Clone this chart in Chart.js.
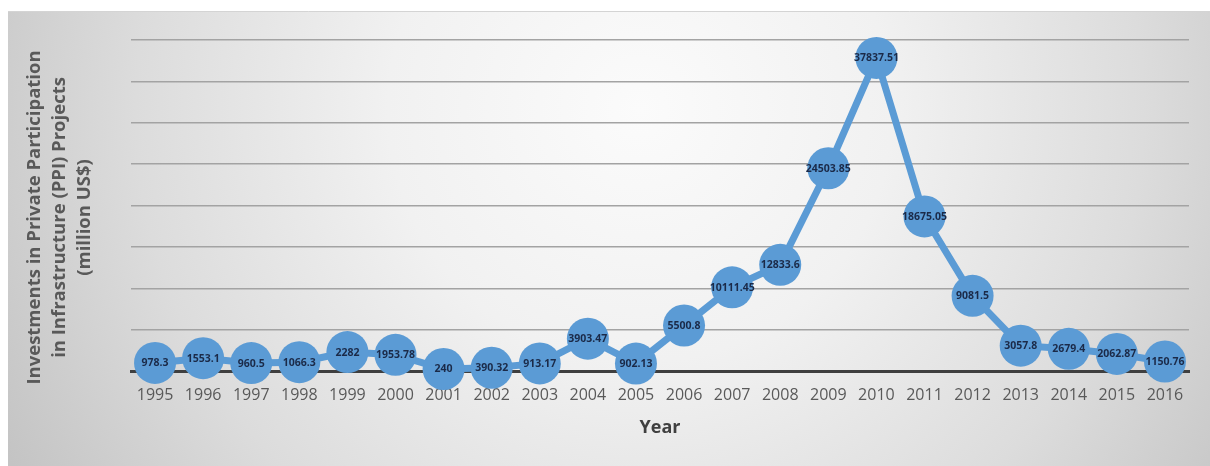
<!DOCTYPE html>
<html>
<head>
<meta charset="utf-8">
<script src="https://cdn.jsdelivr.net/npm/chart.js@4/dist/chart.umd.min.js"></script>
<style>
  html, body { margin: 0; padding: 0; background: #ffffff; }
  #wrap { width: 1210px; height: 466px; position: relative; }
</style>
</head>
<body>
<div id="wrap"><canvas id="ppi"></canvas></div>
<script>
// Investment in PPI projects, million US$, by year
const years = ['1995','1996','1997','1998','1999','2000','2001','2002','2003','2004','2005',
               '2006','2007','2008','2009','2010','2011','2012','2013','2014','2015','2016'];
const investment = [978.3, 1553.1, 960.5, 1066.3, 2282, 1953.78, 240, 390.32, 913.17, 3903.47, 902.13,
                    5500.8, 10111.45, 12833.6, 24503.85, 37837.51, 18675.05, 9081.5, 3057.8, 2679.4, 2062.87, 1150.76];
const yTitleLines = ['Investments in Private Participation', 'in Infrastructure (PPI) Projects', '(million US$)'];
const xTitle = 'Year';

const BLUE = '#5b9bd5';

// shaded panel behind the plot
const panelBackground = {
  id: 'panelBackground',
  beforeDraw(chart) {
    const ctx = chart.ctx;
    const w = chart.width, h = chart.height;
    ctx.save();
    ctx.fillStyle = '#ffffff';
    ctx.fillRect(0, 0, w, h);
    const g = ctx.createRadialGradient(640, 110, 0, 640, 110, 720);
    g.addColorStop(0, '#fbfbfb');
    g.addColorStop(0.35, '#f1f1f1');
    g.addColorStop(0.7, '#dcdcdc');
    g.addColorStop(1, '#c4c4c4');
    ctx.fillStyle = g;
    ctx.fillRect(8, 11, w - 8, h - 11);
    ctx.strokeStyle = '#d4d4d4';
    ctx.lineWidth = 1;
    ctx.beginPath();
    ctx.moveTo(8, 11.5);
    ctx.lineTo(w, 11.5);
    ctx.stroke();
    ctx.restore();
  }
};

// three-line vertical title to the left of the plot
const sideTitle = {
  id: 'sideTitle',
  afterDraw(chart) {
    const ctx = chart.ctx;
    const area = chart.chartArea;
    const cy = (area.top + area.bottom) / 2 + 12;
    ctx.save();
    ctx.font = 'bold 18.5px "Open Sans"';
    ctx.fillStyle = '#595959';
    ctx.textAlign = 'center';
    ctx.textBaseline = 'middle';
    yTitleLines.forEach((line, i) => {
      ctx.save();
      ctx.translate(35 + i * 25, cy);
      ctx.rotate(-Math.PI / 2);
      ctx.fillText(line, 0, 0);
      ctx.restore();
    });
    ctx.restore();
  }
};

// value written inside each marker
const pointValues = {
  id: 'pointValues',
  afterDatasetsDraw(chart) {
    const ctx = chart.ctx;
    const meta = chart.getDatasetMeta(0);
    const data = chart.data.datasets[0].data;
    ctx.save();
    ctx.font = 'bold 10.5px "Open Sans"';
    ctx.fillStyle = '#1b2a48';
    ctx.textAlign = 'center';
    ctx.textBaseline = 'middle';
    meta.data.forEach((pt, i) => {
      ctx.fillText(String(data[i]), pt.x, pt.y + 0.5);
    });
    ctx.restore();
  }
};

new Chart(document.getElementById('ppi'), {
  type: 'line',
  data: {
    labels: years,
    datasets: [{
      data: investment,
      borderColor: BLUE,
      borderWidth: 7,
      backgroundColor: BLUE,
      pointRadius: 21,
      pointHoverRadius: 21,
      pointBackgroundColor: BLUE,
      pointBorderWidth: 0,
      tension: 0,
      clip: false
    }]
  },
  options: {
    responsive: true,
    maintainAspectRatio: false,
    animation: false,
    layout: { padding: { left: 0, top: 40, right: 21, bottom: 0 } },
    plugins: { legend: { display: false }, tooltip: { enabled: false } },
    scales: {
      x: {
        offset: true,
        grid: { display: false, drawTicks: false },
        border: { display: true, color: '#3f3f3f', width: 3 },
        ticks: {
          color: '#595959',
          font: { family: 'Open Sans', size: 16 },
          padding: 15,
          maxRotation: 0,
          autoSkip: false
        },
        title: {
          display: true,
          text: xTitle,
          color: '#404040',
          font: { family: 'Open Sans', size: 18, weight: 'bold' },
          padding: { top: 0, bottom: 27 }
        },
        afterFit(scale) { scale.height = 95; }
      },
      y: {
        min: 0,
        max: 40000,
        ticks: { display: false, stepSize: 5000 },
        grid: { color: '#a3a3a3', lineWidth: 1.5, drawTicks: false },
        border: { display: false },
        title: { display: false },
        afterFit(scale) { scale.width = 131; }
      }
    }
  },
  plugins: [panelBackground, sideTitle, pointValues]
});
</script>
</body>
</html>
